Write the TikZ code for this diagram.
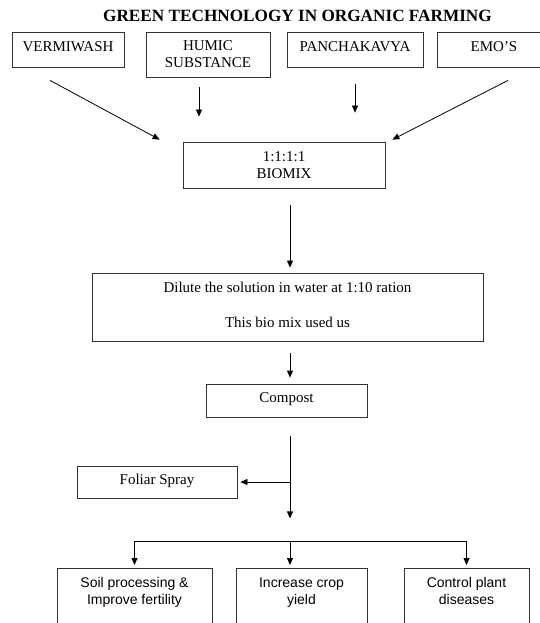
\documentclass[tikz,border=0pt]{standalone}
\usepackage{fontspec}
\setmainfont{Liberation Serif}
\setsansfont{Liberation Sans}
\usetikzlibrary{calc,arrows.meta}

\begin{document}
\begin{tikzpicture}[x=1pt, y=-1pt, line width=0.8pt,
    box/.style={draw=black!80, align=center, inner sep=0pt, font=\fontsize{15}{17}\selectfont},
    lifted/.style={text depth=6pt},
    result/.style={draw=black!80, align=center, anchor=north, inner xsep=0pt, inner ysep=9pt, text depth=40pt, font=\sffamily\fontsize{14}{17}\selectfont},
    arr/.style={-{Triangle[length=7pt,width=6pt]}},
    bar/.style={line width=1.6pt}
  ]
  \useasboundingbox (0,0) rectangle (540,623);
  \clip (0,0) rectangle (540,623);

  \node[font=\bfseries\fontsize{17.2}{20}\selectfont] (title) at (297.5,16) {GREEN TECHNOLOGY IN ORGANIC FARMING};

  \node[box, lifted, minimum width=112pt, minimum height=35pt] (verm) at (68,49.5) {VERMIWASH};
  \node[box, minimum width=124pt, minimum height=45pt] (humic) at (208,54.5) {HUMIC\\SUBSTANCE};
  \node[box, lifted, minimum width=136pt, minimum height=35pt] (panch) at (355,49.5) {PANCHAKAVYA};
  \node[box, lifted, minimum width=114pt, minimum height=35pt] (emo) at (494,49.5) {EMO’S};

  \node[box, minimum width=202pt, minimum height=46pt] (biomix) at (284,165) {1:1:1:1\\BIOMIX};
  \node[box, text depth=5pt, minimum width=391pt, minimum height=68pt] (dilute) at (287.5,307) {Dilute the solution in water at 1:10 ration\\[18pt]This bio mix used us};
  \node[box, lifted, minimum width=161pt, minimum height=33pt] (compost) at (286.5,400.5) {Compost};
  \node[box, lifted, minimum width=160pt, minimum height=32pt] (foliar) at (157,482) {Foliar Spray};

  \node[result, minimum width=155pt] (soil) at (134.5,568) {Soil processing \&\\Improve fertility};
  \node[result, minimum width=131pt] (crop) at (301.5,568) {Increase crop\\yield};
  \node[result, minimum width=125pt] (ctrl) at (466.5,568) {Control plant\\diseases};

  \coordinate (vs) at ($(verm.south)+(-18,13)$);
  \coordinate (ve) at ($(biomix.north west)+(-23,-2)$);
  \coordinate (es) at ($(emo.south)+(14,13)$);
  \coordinate (ee) at ($(biomix.north east)+(7,-2)$);
  \coordinate (fork) at ($(compost.south)+(3.5,124)$);

  \draw[arr] (vs) -- (ve);
  \draw[arr] (es) -- (ee);
  \draw[arr, shorten <=10pt, shorten >=25pt] ([xshift=-9pt]humic.south) -- ([xshift=-9pt]humic.south |- biomix.north);
  \draw[arr, shorten <=17pt, shorten >=29pt] (panch.south) -- (panch.south |- biomix.north);

  \draw[arr, shorten <=17pt, shorten >=5pt] ([xshift=6pt]biomix.south) -- ([xshift=6pt]biomix.south |- dilute.north);
  \draw[arr, shorten <=12pt, shorten >=6pt] ([xshift=2.5pt]dilute.south) -- ([xshift=2.5pt]dilute.south |- compost.north);
  \draw[arr, shorten <=19pt, shorten >=23pt] ([xshift=3.5pt]compost.south) -- (fork);
  \draw[arr, shorten >=3pt] (foliar.east -| fork) -- (foliar.east);

  \draw[bar] (soil.north |- fork) -- (ctrl.north |- fork);
  \draw[arr, shorten >=3pt] (soil.north |- fork) -- (soil.north);
  \draw[arr, shorten >=3pt] (fork) -- (fork |- crop.north);
  \draw[arr, shorten >=3pt] (ctrl.north |- fork) -- (ctrl.north);
\end{tikzpicture}
\end{document}
